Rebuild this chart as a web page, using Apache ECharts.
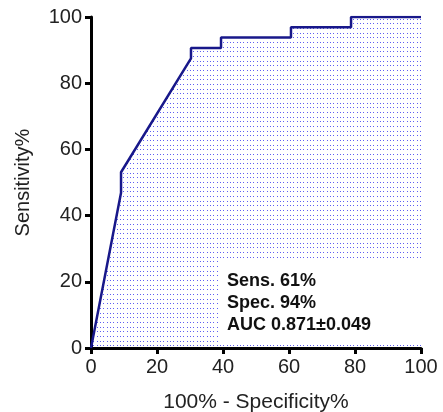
<!DOCTYPE html>
<html>
<head>
<meta charset="utf-8">
<script src="https://cdn.jsdelivr.net/npm/echarts@6/dist/echarts.min.js"></script>
<style>
  html, body { margin: 0; padding: 0; background: #fff; }
  #myChart { width: 443px; height: 412px; }
</style>
</head>
<body>
<div id="myChart"></div>
<script>
// ROC curve points (100% - specificity, sensitivity)
const fpr = [0, 9.1, 9.1, 30.3, 30.3, 39.4, 39.4, 60.6, 60.6, 78.8, 78.8, 100]
const sens = [0, 46.9, 53.1, 87.5, 90.6, 90.6, 93.8, 93.8, 96.9, 96.9, 100, 100]
const statLines = ['Sens. 61%', 'Spec. 94%', 'AUC 0.871\u00B10.049']

// dotted fill pattern (~3.3px x 4.7px spacing)
const pat = document.createElement('canvas')
pat.width = 10
pat.height = 14
const pctx = pat.getContext('2d')
pctx.fillStyle = 'rgba(55,55,240,0.8)'
;[0, 5, 9].forEach(y => {
  ;[0, 3, 7].forEach(x => pctx.fillRect(x, y, 1, 1))
})

const chart = echarts.init(document.getElementById('myChart'))
const font = 'Liberation Sans, Arial, sans-serif'

chart.setOption({
  animation: false,
  grid: { left: 91, right: 22, top: 17, bottom: 64, containLabel: false, outerBoundsMode: 'none' },
  xAxis: {
    type: 'value',
    min: 0,
    max: 100,
    interval: 20,
    name: '100% - Specificity%',
    nameLocation: 'middle',
    nameGap: 44,
    nameTextStyle: { fontFamily: font, fontSize: 21, color: '#222' },
    axisLine: { lineStyle: { color: '#000', width: 3 } },
    axisTick: { length: 6, lineStyle: { color: '#000', width: 3 } },
    axisLabel: { fontFamily: font, fontSize: 20, color: '#222', margin: 9 },
    splitLine: { show: false },
  },
  yAxis: {
    type: 'value',
    min: 0,
    max: 100,
    interval: 20,
    name: 'Sensitivity%',
    nameLocation: 'middle',
    nameGap: 58,
    nameTextStyle: { fontFamily: font, fontSize: 20, color: '#222' },
    axisLine: { show: true, lineStyle: { color: '#000', width: 3 } },
    axisTick: { show: true, length: 6, lineStyle: { color: '#000', width: 3 } },
    axisLabel: { fontFamily: font, fontSize: 20, color: '#222', margin: 9 },
    splitLine: { show: false },
  },
  series: [{
    type: 'line',
    data: fpr.map((x, i) => [x, sens[i]]),
    showSymbol: false,
    lineStyle: { color: '#18188a', width: 2.5 },
    areaStyle: { color: { image: pat, repeat: 'repeat' }, opacity: 1 },
    z: 2,
  }],
  graphic: [{
    type: 'rect',
    shape: { x: 220, y: 258, width: 201, height: 86 },
    style: { fill: '#fff' },
    z: 10,
  }, {
    type: 'text',
    left: 227,
    top: 270,
    style: {
      text: statLines.join('\n'),
      font: 'bold 18px ' + font,
      fill: '#111',
      lineHeight: 22,
    },
    z: 11,
  }],
})
</script>
</body>
</html>
